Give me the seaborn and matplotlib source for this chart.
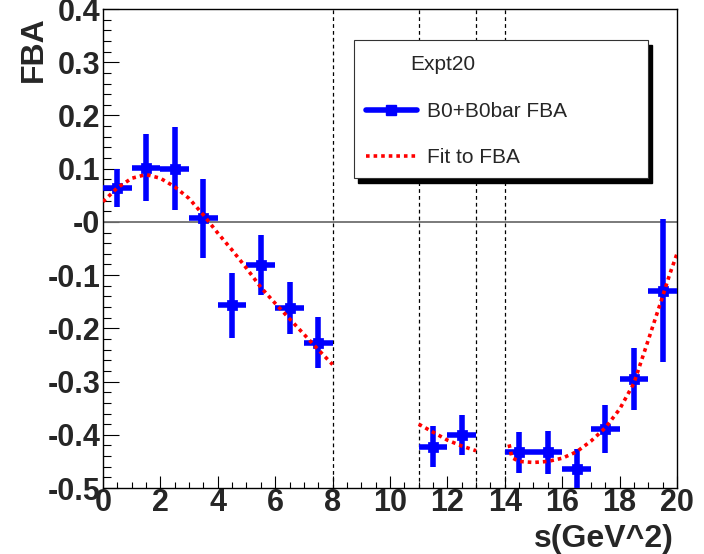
import numpy as np
import pandas as pd
import matplotlib
matplotlib.use('agg')
import matplotlib.pyplot as plt
import seaborn as sns
from matplotlib.patches import Rectangle
from matplotlib.ticker import MultipleLocator, FixedLocator, FixedFormatter

# FBA measurements per s bin
s_bins = [0.5, 1.5, 2.5, 3.5, 4.5, 5.5, 6.5, 7.5, 11.5, 12.5,
          14.5, 15.5, 16.5, 17.5, 18.5, 19.5]
fba = [0.064, 0.102, 0.100, 0.007, -0.157, -0.081, -0.162, -0.227, -0.422, -0.400,
       -0.433, -0.433, -0.465, -0.389, -0.295, -0.129]
fba_err = [0.036, 0.063, 0.078, 0.074, 0.061, 0.056, 0.049, 0.048, 0.039, 0.038,
           0.038, 0.041, 0.038, 0.045, 0.058, 0.134]
s_halfwidth = 0.5

# fit curves (three s regions)
fit1_s = [0.0, 0.5, 1.0, 1.5, 2.0, 2.5, 3.0, 3.5, 4.0, 4.5, 5.0, 5.5, 6.0, 6.5, 7.0, 7.5, 8.0]
fit1_y = [0.038, 0.064, 0.082, 0.089, 0.082, 0.066, 0.044, 0.013, -0.021, -0.053,
          -0.087, -0.123, -0.153, -0.182, -0.211, -0.240, -0.268]
fit2_s = [11.0, 11.5, 12.0, 12.5, 13.0]
fit2_y = [-0.380, -0.395, -0.410, -0.421, -0.430]
fit3_s = [14.15, 14.25, 14.5, 15.0, 15.5, 16.0, 16.5, 17.0, 17.5, 18.0, 18.5, 19.0, 19.5, 19.75, 20.0]
fit3_y = [-0.418, -0.443, -0.450, -0.452, -0.450, -0.444, -0.432, -0.412, -0.387,
          -0.352, -0.303, -0.222, -0.140, -0.098, -0.060]

cut_lines = [8, 11, 13, 14]
y_ticks = [-0.5, -0.4, -0.3, -0.2, -0.1, 0.0, 0.1, 0.2, 0.3, 0.4]
y_labels = ['-0.5', '-0.4', '-0.3', '-0.2', '-0.1', '-0', '0.1', '0.2', '0.3', '0.4']

df_fit = pd.DataFrame({
    's': fit1_s + fit2_s + fit3_s,
    'fba': fit1_y + fit2_y + fit3_y,
    'seg': [1] * len(fit1_s) + [2] * len(fit2_s) + [3] * len(fit3_s),
})
df_pts = pd.DataFrame({'s': s_bins, 'fba': fba, 'err': fba_err})

sns.set_style('ticks')
plt.rcParams['font.family'] = ['Liberation Sans', 'DejaVu Sans']

fig = plt.figure(figsize=(7.04, 5.54), dpi=100)
ax = fig.add_axes([0.1463, 0.1191, 0.8153, 0.8646])

ax.axhline(0, color='#707070', lw=1.3, zorder=1)
for xv in cut_lines:
    ax.axvline(xv, color='black', lw=0.9, ls=(0, (3, 2.5)), zorder=1)

# data points with error bars
ax.errorbar(df_pts['s'], df_pts['fba'], xerr=s_halfwidth, yerr=df_pts['err'],
            fmt='none', ecolor='blue', elinewidth=4, capsize=0, zorder=3)
sns.scatterplot(data=df_pts, x='s', y='fba', marker='s', s=45, color='blue',
                edgecolor='blue', ax=ax, zorder=4, legend=False)

# fit
sns.lineplot(data=df_fit, x='s', y='fba', units='seg', estimator=None, sort=False,
             color='red', lw=2.6, ls=(0, (1, 1.1)), ax=ax, zorder=5, legend=False)

ax.set_xlim(0, 20)
ax.set_ylim(-0.5, 0.4)
ax.xaxis.set_major_locator(MultipleLocator(2))
ax.xaxis.set_minor_locator(MultipleLocator(0.5))
ax.yaxis.set_major_locator(FixedLocator(y_ticks))
ax.yaxis.set_major_formatter(FixedFormatter(y_labels))
ax.yaxis.set_minor_locator(MultipleLocator(0.02))
ax.tick_params(which='both', direction='in', top=False, right=False, color='black')
ax.tick_params(axis='y', which='major', length=11.5, width=0.8, pad=2)
ax.tick_params(axis='y', which='minor', length=5.5, width=0.8)
ax.tick_params(axis='x', which='major', length=8.5, width=0.8, pad=0)
ax.tick_params(axis='x', which='minor', length=4.5, width=0.8)
for lab in ax.get_xticklabels() + ax.get_yticklabels():
    lab.set_fontsize(22)
    lab.set_fontweight('bold')
for sp in ax.spines.values():
    sp.set_color('black')
    sp.set_linewidth(1.0)
ax.set_xlabel('')
ax.set_ylabel('')

fig.text(34 / 704, 1 - 16 / 554, 'FBA', rotation=90, ha='center', va='top',
         fontsize=23, fontweight='bold')
fig.text(674 / 704, 1 - 539 / 554, 's(GeV^2)', ha='right', va='center',
         fontsize=23, fontweight='bold')

# legend box drawn ROOT style with a solid shadow
def px(xp, yp):
    return (xp - 103) / 574, (488 - yp) / 479

x0, y0 = px(354, 178)
x1, y1 = px(648, 40)
sx, sy = px(358, 183)
ax.add_patch(Rectangle((sx, sy), x1 - x0, y1 - y0, transform=ax.transAxes,
                       facecolor='black', edgecolor='black', zorder=6, clip_on=False))
ax.add_patch(Rectangle((x0, y0), x1 - x0, y1 - y0, transform=ax.transAxes,
                       facecolor='white', edgecolor='#333333', lw=0.8, zorder=7, clip_on=False))
tx, ty = px(410, 64)
ax.text(tx, ty, 'Expt20', transform=ax.transAxes, fontsize=15, va='center', zorder=8)
hx0, _ = px(366, 0)
hx1, _ = px(417, 0)
lx, ly = px(427, 110)
ax.plot([hx0, hx1], [ly, ly], transform=ax.transAxes, color='blue', lw=4, zorder=8)
ax.plot([(hx0 + hx1) / 2], [ly], transform=ax.transAxes, marker='s', ms=7, color='blue', zorder=8)
ax.text(lx, ly - 0.004, 'B0+B0bar FBA', transform=ax.transAxes, fontsize=15, va='center', zorder=8)
_, ly2 = px(0, 156)
ax.plot([hx0, hx1], [ly2, ly2], transform=ax.transAxes, color='red', lw=2.6,
        ls=(0, (1, 1.1)), zorder=8)
ax.text(lx, ly2 - 0.004, 'Fit to FBA', transform=ax.transAxes, fontsize=15, va='center', zorder=8)

plt.savefig('out.png', dpi=100)
plt.close()
